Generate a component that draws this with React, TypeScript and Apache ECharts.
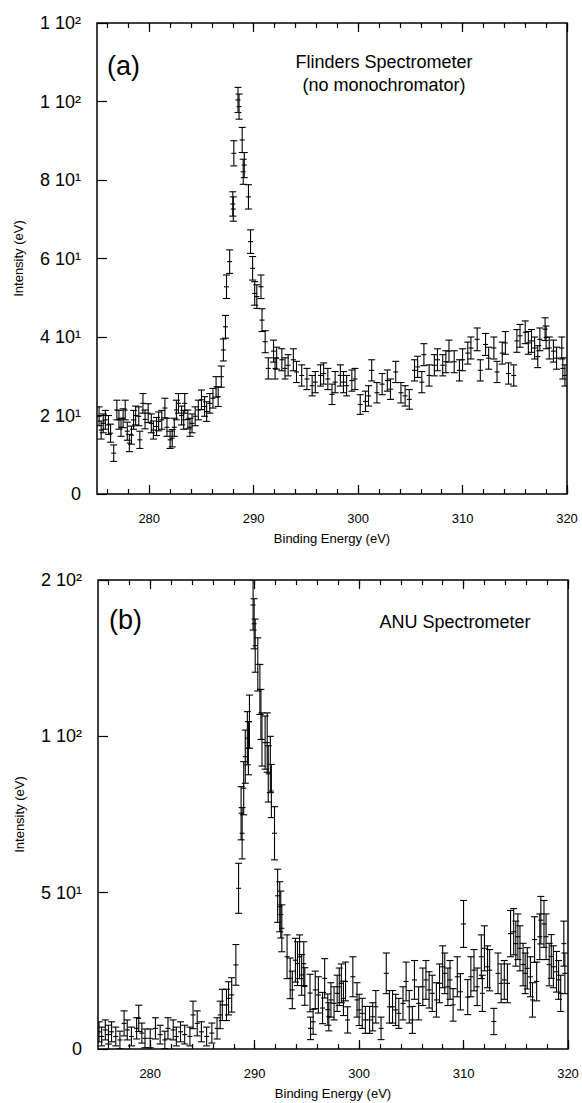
import React, { useEffect, useRef } from 'react';
import * as echarts from 'echarts';

const FONT = '"Liberation Sans", Arial, Helvetica, sans-serif';

// ---------- Panel (a): Flinders spectrometer ----------
const energyA = [
  275.2, 275.4, 275.6, 275.8, 276.1, 276.3, 276.6, 276.9, 277.1, 277.3,
  277.5, 277.7, 277.9, 278.1, 278.3, 278.5, 278.7, 279.0, 279.1, 279.4,
  279.6, 279.9, 280.2, 280.4, 280.7, 280.9, 281.2, 281.5, 281.7, 282.0,
  282.2, 282.4, 282.6, 282.8, 283.1, 283.3, 283.4, 283.7, 283.9, 284.1,
  284.4, 284.7, 285.0, 285.3, 285.5, 285.8, 286.1, 286.4, 286.6, 286.9,
  287.1, 287.3, 287.4, 287.7, 288.0, 288.05, 288.1, 288.5, 288.6, 288.9,
  289.0, 289.1, 289.5, 289.7, 289.9, 290.1, 290.3, 290.7, 290.8, 291.1,
  291.4, 291.9, 292.05, 292.2, 292.7, 293.0, 293.3, 293.8, 294.1, 294.6,
  295.1, 295.6, 295.9, 296.4, 296.7, 297.1, 297.5, 297.8, 298.3, 298.6,
  298.9, 299.4, 299.7, 300.2, 300.7, 301.0, 301.3, 301.8, 302.3, 302.8,
  303.1, 303.6, 304.1, 304.5, 304.9, 305.4, 305.7, 306.1, 306.3, 306.8,
  307.3, 307.6, 308.1, 308.4, 308.7, 309.2, 309.7, 310.0, 310.5, 310.8,
  311.4, 311.7, 312.2, 312.5, 313.0, 313.3, 313.8, 314.1, 314.4, 314.9,
  315.2, 315.5, 316.0, 316.3, 316.6, 316.9, 317.2, 317.4, 317.9, 318.0,
  318.3, 318.7, 319.0, 319.5, 319.6, 319.8,
];
const intensityA = [
  19.8, 16.3, 18.0, 18.9, 17.6, 15.5, 10.4, 21.4, 18.9, 17.0,
  19.3, 21.4, 16.0, 13.0, 15.0, 18.9, 20.0, 19.8, 13.8, 23.1,
  19.0, 20.6, 18.0, 16.3, 17.2, 18.5, 18.9, 21.9, 17.0, 13.8,
  14.2, 17.0, 21.4, 23.1, 20.0, 18.9, 23.1, 19.0, 17.0, 18.0,
  19.8, 21.4, 24.0, 22.3, 21.0, 23.1, 24.4, 27.3, 24.8, 29.9,
  36.7, 42.6, 52.8, 59.2, 73.9, 72.6, 86.8, 100.4, 98.7, 90.2,
  82.1, 83.8, 75.7, 64.3, 57.5, 51.1, 50.3, 52.8, 44.3, 38.8,
  32.0, 36.4, 32.0, 34.6, 34.2, 32.0, 32.8, 34.2, 31.1, 30.2,
  29.3, 27.6, 28.5, 30.2, 30.7, 29.3, 25.4, 28.5, 30.2, 28.5,
  27.6, 28.9, 29.3, 22.8, 23.6, 25.0, 31.5, 25.8, 28.0, 28.9,
  26.7, 31.1, 25.8, 25.0, 24.1, 31.5, 32.4, 28.5, 35.5, 30.2,
  32.8, 34.2, 32.8, 33.7, 36.4, 33.7, 31.5, 34.2, 35.9, 37.2,
  39.4, 31.5, 38.1, 34.6, 37.2, 31.1, 35.9, 38.5, 30.7, 30.2,
  39.0, 40.3, 41.2, 38.5, 39.0, 37.2, 35.0, 39.4, 42.0, 39.9,
  37.2, 36.4, 34.6, 37.2, 32.0, 30.2,
];
const errorA = [
  2.4, 2.3, 2.4, 2.4, 2.4, 2.3, 2.1, 2.5, 2.4, 2.3,
  2.4, 2.5, 2.3, 2.2, 2.3, 2.4, 2.4, 2.4, 2.2, 2.5,
  2.4, 2.4, 2.4, 2.3, 2.3, 2.4, 2.4, 2.5, 2.3, 2.2,
  2.2, 2.3, 2.5, 2.5, 2.4, 2.4, 2.5, 2.4, 2.3, 2.4,
  2.4, 2.5, 2.5, 2.5, 2.5, 2.5, 2.5, 2.6, 2.5, 2.7,
  2.8, 2.9, 3.0, 3.0, 3.1, 3.1, 3.2, 3.2, 3.2, 3.2,
  3.2, 3.2, 3.1, 3.0, 3.0, 3.0, 3.0, 3.0, 2.9, 2.8,
  2.7, 2.8, 2.7, 2.8, 2.8, 2.7, 2.7, 2.8, 2.7, 2.7,
  2.7, 2.6, 2.7, 2.7, 2.7, 2.7, 2.6, 2.7, 2.7, 2.7,
  2.6, 2.7, 2.7, 2.5, 2.6, 2.6, 2.7, 2.6, 2.7, 2.7,
  2.6, 2.7, 2.6, 2.6, 2.5, 2.7, 2.7, 2.7, 2.8, 2.7,
  2.7, 2.8, 2.7, 2.8, 2.8, 2.8, 2.7, 2.8, 2.8, 2.8,
  2.9, 2.7, 2.8, 2.8, 2.8, 2.7, 2.8, 2.9, 2.7, 2.7,
  2.9, 2.9, 2.9, 2.9, 2.9, 2.8, 2.8, 2.9, 2.9, 2.9,
  2.8, 2.8, 2.8, 2.8, 2.7, 2.7,
];

// ---------- Panel (b): ANU spectrometer ----------
const energyB = [
  275.1, 275.35, 275.7, 276.0, 276.3, 276.7, 277.1, 277.5, 277.8, 278.2,
  278.7, 278.9, 279.2, 279.5, 280.0, 280.5, 280.95, 281.4, 281.7, 282.2,
  282.5, 282.9, 283.3, 283.8, 284.1, 284.5, 284.9, 285.4, 285.9, 286.4,
  286.7, 286.9, 287.3, 287.5, 287.8, 288.2, 288.46, 288.7, 288.8, 288.95,
  289.1, 289.3, 289.4, 289.5, 289.85, 289.95, 290.05, 290.3, 290.5, 290.6,
  290.7, 291.0, 291.2, 291.3, 291.5, 291.6, 291.9, 292.2, 292.4, 292.5,
  292.6, 293.1, 293.4, 293.6, 293.9, 294.1, 294.3, 294.5, 294.7, 294.8,
  295.3, 295.35, 295.6, 295.8, 296.1, 296.5, 296.7, 297.0, 297.1, 297.3,
  297.6, 297.9, 298.1, 298.3, 298.5, 298.7, 298.9, 299.4, 299.8, 300.0,
  300.3, 300.6, 301.0, 301.3, 301.6, 302.1, 302.6, 302.9, 303.2, 303.5,
  303.8, 304.2, 304.5, 304.8, 305.1, 305.3, 305.7, 306.1, 306.4, 306.7,
  307.0, 307.4, 307.7, 308.0, 308.2, 308.5, 308.7, 309.0, 309.4, 309.7,
  310.0, 310.4, 310.7, 311.0, 311.3, 311.7, 311.8, 312.0, 312.3, 312.5,
  312.9, 313.3, 313.6, 313.9, 314.2, 314.5, 314.8, 315.0, 315.2, 315.4,
  315.7, 315.9, 316.1, 316.4, 316.6, 316.8, 317.0, 317.3, 317.4, 317.7,
  317.9, 318.2, 318.4, 318.6, 318.9, 319.1, 319.3, 319.6, 319.7,
];
const intensityB = [
  5.5, 4.0, 6.1, 4.6, 5.5, 4.0, 2.9, 8.2, 6.1, 4.0,
  6.6, 9.8, 5.1, 3.4, 3.4, 6.6, 4.6, 2.9, 6.6, 6.1,
  4.0, 5.5, 4.6, 4.0, 10.9, 8.2, 5.5, 4.0, 5.1, 6.6,
  10.9, 14.1, 14.1, 16.2, 17.3, 26.9, 51.4, 75.4, 69.0, 83.4,
  93.5, 99.4, 96.2, 104.7, 142, 136, 129, 123, 115, 107,
  99, 98, 98, 88, 91, 82.5, 69, 49, 45.5, 43,
  38.6, 29.5, 22.6, 18.9, 28.4, 27.3, 29.5, 23.7, 27.3, 20.0,
  17.9, 6.6, 8.7, 18.9, 17.3, 13.1, 22.6, 12.6, 10.3, 15.7,
  14.6, 17.8, 19.9, 21.0, 16.2, 21.6, 9.3, 23.1, 15.7, 12.5,
  11.4, 9.3, 9.3, 10.3, 13.5, 6.6, 24.2, 13.5, 13.5, 12.5,
  11.4, 14.6, 21.6, 13.5, 9.3, 22.1, 14.6, 19.9, 22.1, 18.9,
  17.8, 15.7, 21.0, 26.3, 24.2, 19.9, 22.1, 14.1, 23.1, 18.3,
  40.0, 16.6, 23.1, 25.2, 19.9, 29.5, 17.8, 32.2, 26.3, 25.2,
  8.8, 24.2, 21.0, 22.1, 21.0, 36.9, 37.5, 33.7, 35.9, 32.2,
  27.0, 24.2, 25.8, 23.1, 15.7, 35.0, 21.6, 35.9, 41.2, 40.0,
  35.9, 27.0, 29.6, 26.3, 24.7, 22.1, 17.8, 33.7, 24.2,
];
const errorB = [
  3.2, 3.0, 3.2, 3.0, 3.2, 3.0, 2.8, 4.0, 3.2, 3.0,
  3.4, 4.2, 3.2, 3.0, 3.0, 3.4, 3.0, 2.8, 3.4, 3.2,
  3.0, 3.2, 3.0, 3.0, 4.4, 4.0, 3.2, 3.0, 3.2, 3.4,
  4.4, 5.0, 5.0, 5.3, 5.5, 6.5, 8.0, 8.5, 8.2, 8.5,
  8.5, 8.5, 8.5, 8.5, 8.0, 8.0, 8.5, 8.5, 8.0, 8.0,
  8.5, 8.5, 9.5, 9.0, 9.0, 8.5, 8.5, 8.5, 8.0, 7.5,
  7.5, 7.0, 6.5, 6.0, 7.0, 7.0, 7.0, 6.5, 7.0, 6.0,
  6.0, 3.6, 4.0, 6.0, 5.8, 5.0, 6.3, 5.0, 4.5, 5.5,
  5.3, 5.8, 6.0, 6.2, 5.5, 6.2, 4.2, 6.4, 5.5, 5.0,
  4.8, 4.3, 4.3, 4.5, 5.2, 3.6, 6.5, 5.2, 5.2, 5.0,
  4.8, 5.3, 6.2, 5.2, 4.3, 6.2, 5.3, 6.0, 6.2, 5.8,
  5.8, 5.5, 6.2, 6.7, 6.5, 6.0, 6.2, 5.2, 6.4, 5.8,
  7.5, 5.6, 6.4, 6.6, 6.0, 7.0, 5.8, 7.2, 6.7, 6.6,
  4.2, 6.5, 6.2, 6.2, 6.2, 7.4, 7.4, 7.2, 7.3, 7.2,
  6.8, 6.5, 6.6, 6.4, 5.5, 7.3, 6.2, 7.3, 7.6, 7.5,
  7.3, 6.8, 7.0, 6.7, 6.5, 6.2, 5.8, 7.2, 6.5,
];

// ---------- Tick values and labels ----------
const xMajorTicks = [280, 290, 300, 310, 320];
const xMajorLabels = ['280', '290', '300', '310', '320'];
const xMinorTicks = [
  276, 278, 280, 282, 284, 286, 288, 290, 292, 294, 296, 298,
  300, 302, 304, 306, 308, 310, 312, 314, 316, 318, 320,
];
const yTicksA = [0, 20, 40, 60, 80, 100, 120];
const yLabelsA = ['0', '2 10¹', '4 10¹', '6 10¹', '8 10¹', '1 10²', '1 10²'];
const yTicksB = [0, 50, 100, 150];
const yLabelsB = ['0', '5 10¹', '1 10²', '2 10²'];

const X_MIN = 275;
const X_MAX = 320;

function buildErrorData(e: number[], v: number[], err: number[]) {
  return e.map((x, i) => [x, v[i], v[i] - err[i], v[i] + err[i]]);
}

const renderErrorBar = (_params: any, api: any) => {
  const x = api.value(0);
  const c = api.coord([x, api.value(1)]);
  const l = api.coord([x, api.value(2)]);
  const h = api.coord([x, api.value(3)]);
  const cap = 3.5;
  const tick = 2.5;
  const style = { stroke: '#000', lineWidth: 1.1, fill: null };
  return {
    type: 'group',
    children: [
      { type: 'line', shape: { x1: c[0], y1: h[1], x2: c[0], y2: l[1] }, style },
      { type: 'line', shape: { x1: c[0] - cap, y1: h[1], x2: c[0] + cap, y2: h[1] }, style },
      { type: 'line', shape: { x1: c[0] - cap, y1: l[1], x2: c[0] + cap, y2: l[1] }, style },
      { type: 'line', shape: { x1: c[0] - tick, y1: c[1], x2: c[0] + tick, y2: c[1] }, style },
    ],
  };
};

function makeXAxes(gridIndex: number) {
  const base = {
    gridIndex,
    type: 'value',
    min: X_MIN,
    max: X_MAX,
    axisLine: { show: false },
    splitLine: { show: false },
  };
  const tickStyle = { color: '#000', width: 1.2 };
  return [
    {
      ...base,
      position: 'bottom',
      axisTick: { show: true, inside: true, length: 9, lineStyle: tickStyle, customValues: xMajorTicks },
      axisLabel: {
        show: true,
        margin: 18,
        fontSize: 13,
        fontFamily: FONT,
        color: '#000',
        customValues: xMajorTicks,
        formatter: (v: number) => {
          const i = xMajorTicks.indexOf(v);
          return i >= 0 ? xMajorLabels[i] : '';
        },
      },
      name: 'Binding Energy (eV)',
      nameLocation: 'middle',
      nameGap: 38,
      nameTextStyle: { fontSize: 13, fontFamily: FONT, color: '#000' },
    },
    {
      ...base,
      position: 'bottom',
      axisTick: { show: true, inside: true, length: 5, lineStyle: tickStyle, customValues: xMinorTicks },
      axisLabel: { show: false },
    },
    {
      ...base,
      position: 'top',
      axisTick: { show: true, inside: true, length: 9, lineStyle: tickStyle, customValues: xMajorTicks },
      axisLabel: { show: false },
    },
    {
      ...base,
      position: 'top',
      axisTick: { show: true, inside: true, length: 5, lineStyle: tickStyle, customValues: xMinorTicks },
      axisLabel: { show: false },
    },
  ];
}

function makeYAxis(gridIndex: number, max: number, interval: number, ticks: number[], labels: string[]) {
  return {
    gridIndex,
    type: 'value',
    min: 0,
    max,
    interval,
    position: 'left',
    axisLine: { show: false },
    splitLine: { show: false },
    axisTick: { show: true, inside: true, length: 10, lineStyle: { color: '#000', width: 1.2 } },
    axisLabel: {
      margin: 16,
      fontSize: 18,
      fontFamily: FONT,
      color: '#000',
      formatter: (v: number) => {
        const i = ticks.indexOf(v);
        return i >= 0 ? labels[i] : '';
      },
    },
    name: 'Intensity (eV)',
    nameLocation: 'middle',
    nameGap: 72,
    nameTextStyle: { fontSize: 13, fontFamily: FONT, color: '#000' },
  };
}

function textEl(text: string, x: number, y: number, size: number, align: string) {
  return {
    type: 'text',
    x,
    y,
    style: {
      text,
      fontSize: size,
      fontFamily: FONT,
      fill: '#000',
      align,
      verticalAlign: 'middle',
      textAlign: align,
      textVerticalAlign: 'middle',
    },
  };
}

export default function App() {
  const ref = useRef<HTMLDivElement>(null);

  useEffect(() => {
    if (!ref.current) return;
    const chart = echarts.init(ref.current, null, { renderer: 'svg' });
    const option: any = {
      animation: false,
      backgroundColor: '#fff',
      grid: [
        { left: 97, top: 23, width: 470, height: 471, show: true, borderColor: '#000', borderWidth: 1.5, backgroundColor: 'transparent' },
        { left: 98, top: 580, width: 470, height: 469, show: true, borderColor: '#000', borderWidth: 1.5, backgroundColor: 'transparent' },
      ],
      xAxis: [...makeXAxes(0), ...makeXAxes(1)],
      yAxis: [
        makeYAxis(0, 120, 20, yTicksA, yLabelsA),
        makeYAxis(1, 150, 50, yTicksB, yLabelsB),
      ],
      series: [
        {
          type: 'custom',
          name: 'Flinders',
          xAxisIndex: 0,
          yAxisIndex: 0,
          clip: true,
          renderItem: renderErrorBar,
          encode: { x: 0, y: [1, 2, 3] },
          data: buildErrorData(energyA, intensityA, errorA),
        },
        {
          type: 'custom',
          name: 'ANU',
          xAxisIndex: 4,
          yAxisIndex: 1,
          clip: true,
          renderItem: renderErrorBar,
          encode: { x: 0, y: [1, 2, 3] },
          data: buildErrorData(energyB, intensityB, errorB),
        },
      ],
      graphic: [
        textEl('(a)', 107, 66, 27, 'left'),
        textEl('Flinders Spectrometer', 384, 62, 18, 'center'),
        textEl('(no monochromator)', 384, 85, 18, 'center'),
        textEl('(b)', 109, 620, 27, 'left'),
        textEl('ANU Spectrometer', 455, 622, 18, 'center'),
      ],
    };
    chart.setOption(option);
    return () => chart.dispose();
  }, []);

  return (
    <div
      ref={ref}
      style={{ position: 'absolute', left: 0, top: 0, width: 582, height: 1103, background: '#fff' }}
    />
  );
}
